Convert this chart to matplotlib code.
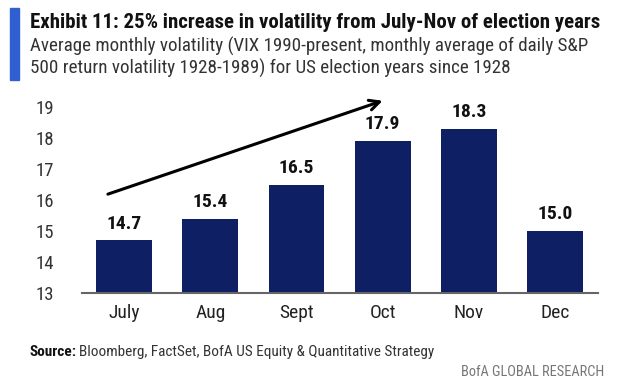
import matplotlib
matplotlib.use("Agg")
import matplotlib.pyplot as plt
from matplotlib.patches import Rectangle

months = ["July", "Aug", "Sept", "Oct", "Nov", "Dec"]
values = [14.7, 15.4, 16.5, 17.9, 18.3, 15.0]
yticks = [13, 14, 15, 16, 17, 18, 19]

FAM = ['Liberation Sans Narrow', 'Roboto Condensed', 'DejaVu Sans']
plt.rcParams['font.family'] = FAM

fig = plt.figure(figsize=(6.18, 3.89), dpi=100)
W, H = 618, 389

def fx(x): return x / W
def fy(y): return 1 - y / H

# left accent bar
fig.patches.append(Rectangle((fx(10), fy(80)), fx(9), (80 - 8) / H,
                             transform=fig.transFigure, color="#2f5fd0", zorder=1))
fig.text(fx(30), fy(22), "Exhibit 11: 25% increase in volatility from July-Nov of election years",
         fontsize=15, fontweight="bold", color="#111111", va="center", ha="left")
fig.text(fx(30), fy(46), "Average monthly volatility (VIX 1990-present, monthly average of daily S&P",
         fontsize=13.7, color="#333333", va="center", ha="left")
fig.text(fx(30), fy(68), "500 return volatility 1928-1989) for US election years since 1928",
         fontsize=13.7, color="#333333", va="center", ha="left")

ax = fig.add_axes([fx(82), fy(293), fx(598 - 82), (293 - 107) / H])
x = list(range(len(months)))
ax.bar(x, values, width=0.65, color="#0e1f63", bottom=0)
ax.set_ylim(13, 19)
ax.set_xlim(-0.49, 5.5)
ax.set_yticks(yticks)
ax.set_yticklabels([str(t) for t in yticks], fontsize=13.5, color="#333333")
ax.set_xticks(x)
ax.set_xticklabels(months, fontsize=14, color="#222222")
ax.tick_params(axis="both", length=0)
ax.tick_params(axis="y", pad=20)
ax.tick_params(axis="x", pad=8)
for s in ["top", "right", "left"]:
    ax.spines[s].set_visible(False)
ax.spines["bottom"].set_color("#666666")
ax.spines["bottom"].set_linewidth(1.5)

for xi, v in zip(x, values):
    ax.text(xi, v + 0.25, f"{v:.1f}", ha="center", va="bottom",
            fontsize=14, fontweight="bold", color="#111111")

ax.annotate("", xy=(3.03, 19.23), xytext=(-0.22, 16.16),
            arrowprops=dict(arrowstyle="->", lw=2.2, color="black",
                            mutation_scale=18),
            annotation_clip=False)

src = fig.text(fx(30), fy(352), "Source:", fontsize=11, fontweight="bold",
               color="#111111", va="center", ha="left")
fig.canvas.draw()
bb = src.get_window_extent()
fig.text(bb.x1 / W + 0.004, fy(352), "Bloomberg, FactSet, BofA US Equity & Quantitative Strategy",
         fontsize=11, color="#333333", va="center", ha="left")
fig.text(fx(604), fy(372), "BofA GLOBAL RESEARCH", fontsize=10.4, color="#777777",
         va="center", ha="right")

fig.savefig("out.png", dpi=100, facecolor="white")
